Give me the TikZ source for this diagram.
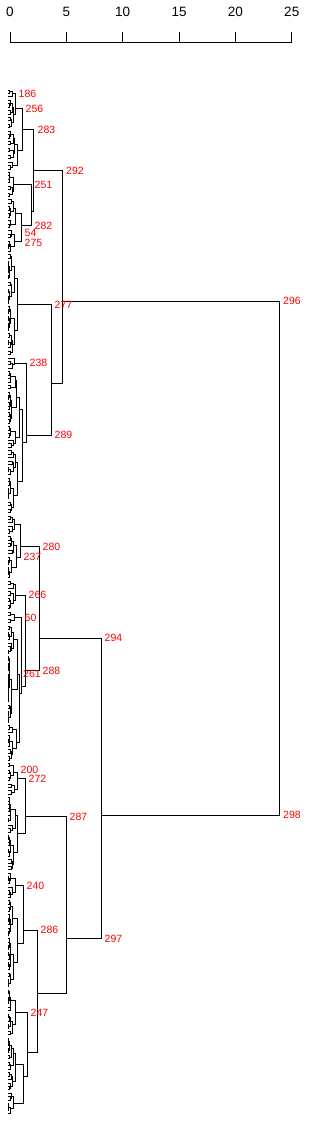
\documentclass[tikz,border=0pt]{standalone}
\usepackage{fontspec}
\setmainfont{Liberation Sans}
\usepackage{tikz}
\usetikzlibrary{positioning}
\usepackage{xcolor}
\definecolor{lblred}{RGB}{255,0,0}
\tikzset{
  branch/.style={draw=black, line width=1pt, line cap=rect},
  scaleax/.style={draw=black, line width=1pt},
  axlab/.style={font=\fontsize{13.5}{13.5}\selectfont, inner sep=0pt},
  clab/.style={text=lblred, font=\fontsize{10.5}{10.5}\selectfont, inner sep=0pt}
}
% leaf i sits at y = 90 + 3.436 (i-1); a cluster hangs at the mean of its leaves
\newcommand\leafx{8}
\newcommand\subtr[3]{%
  \begingroup
  \ifnum#1=#2\relax
    \pgfmathsetmacro\sbY{90+3.436*(#1-1)}%
    \xdef\sbRetY{\sbY}\xdef\sbRetH{\leafx}%
  \else
    \pgfmathtruncatemacro\sbM{#1+floor((#2-#1)*(0.25+0.5*rnd))}%
    \pgfmathtruncatemacro\sbMp{\sbM+1}%
    \pgfmathsetmacro\sbHa{\leafx+(#3-\leafx)*(0.3+0.55*rnd)}%
    \pgfmathsetmacro\sbHb{\leafx+(#3-\leafx)*(0.3+0.55*rnd)}%
    \edef\sbNext{\noexpand\subtr{#1}{\sbM}{\sbHa}}\sbNext
    \let\sbYa\sbRetY \let\sbHa\sbRetH
    \edef\sbNext{\noexpand\subtr{\sbMp}{#2}{\sbHb}}\sbNext
    \let\sbYb\sbRetY \let\sbHb\sbRetH
    \draw[branch] (\sbHa,\sbYa) -- (#3,\sbYa) -- (#3,\sbYb) -- (\sbHb,\sbYb);
    \pgfmathsetmacro\sbY{90+3.436*((#1+#2)/2-1)}%
    \xdef\sbRetY{\sbY}\xdef\sbRetH{#3}%
  \fi
  \endgroup}
\newcommand\mkbase[4]{%
  \subtr{#2}{#3}{#4}%
  \coordinate (#1) at (\sbRetH,\sbRetY);}
\newcommand\mkclus[6]{%
  \pgfmathsetmacro\cy{90+3.436*((#2+#3)/2-1)}%
  \coordinate (#1) at (#4,\cy);
  \draw[branch] (#5) -- (#5 -| #1) -- (#6 -| #1) -- (#6);}

\begin{document}
\begin{tikzpicture}[x=1pt, y=-1pt]
  \useasboundingbox (0,0) rectangle (312,1128);
  \pgfmathsetseed{7}

  %% ---- scale -------------------------------------------------------
  \draw[scaleax] (10,42) -- (291.7,42);
  \foreach \v in {0,5,...,25}{
    \draw[scaleax] ({10+11.27*\v},42) -- ({10+11.27*\v},31.7);
    \node[axlab] (t\v) at ({10+11.27*\v},12) {\v};
  }

  %% ---- upper block -------------------------------------------------
  \mkbase{b1}{1}{3}{12}
  \mkbase{b2}{4}{12}{13}
  \mkclus{p1}{1}{12}{15}{b1}{b2}
  \mkbase{b3}{13}{24}{17}
  \mkclus{u1a}{1}{24}{22}{p1}{b3}
  \mkbase{b4}{25}{32}{13}
  \mkbase{b5}{33}{41}{15}
  \mkbase{b6}{42}{48}{14}
  \mkclus{q1}{33}{48}{21}{b5}{b6}
  \mkclus{u1b}{25}{48}{31}{b4}{q1}
  \mkclus{u1}{1}{48}{33}{u1a}{u1b}
  \mkbase{b7}{49}{63}{14}
  \mkbase{b8}{64}{78}{14.5}
  \mkclus{u2a}{49}{78}{17}{b7}{b8}
  \mkbase{b9}{79}{82}{14}
  \mkbase{b10}{83}{105}{19}
  \mkbase{b11}{106}{124}{17}
  \mkclus{q2}{83}{124}{22}{b10}{b11}
  \mkclus{u2b}{79}{124}{26}{b9}{q2}
  \mkclus{u2}{49}{124}{51}{u2a}{u2b}
  \mkclus{up}{1}{124}{62}{u1}{u2}

  %% ---- lower block -------------------------------------------------
  \mkbase{b12}{125}{130}{14}
  \mkbase{b13}{131}{143}{16}
  \mkclus{q3}{125}{143}{20}{b12}{b13}
  \mkbase{b14}{144}{152}{15}
  \mkbase{b15}{153}{156}{14}
  \mkbase{b16}{157}{185}{17}
  \mkbase{b17}{186}{196}{16}
  \mkclus{q4}{157}{196}{19.5}{b16}{b17}
  \mkclus{q5}{153}{196}{21}{b15}{q4}
  \mkclus{q6}{144}{196}{25}{b14}{q5}
  \mkclus{l1}{125}{196}{39}{q3}{q6}
  \mkbase{b18}{197}{202}{13}
  \mkbase{b19}{203}{206}{14}
  \mkclus{q7}{197}{206}{17}{b18}{b19}
  \mkbase{b20}{207}{228}{17}
  \mkclus{q8}{197}{228}{25}{q7}{b20}
  \mkbase{b21}{229}{236}{15}
  \mkbase{b22}{237}{262}{17}
  \mkclus{q9}{229}{262}{23}{b21}{b22}
  \mkbase{b23}{263}{276}{15}
  \mkbase{b24}{277}{292}{15}
  \mkbase{b25}{293}{299}{13}
  \mkclus{q10}{277}{299}{23}{b24}{b25}
  \mkclus{q11}{263}{299}{27}{b23}{q10}
  \mkclus{q12}{229}{299}{37}{q9}{q11}
  \mkclus{l2}{197}{299}{66}{q8}{q12}
  \mkclus{lo}{125}{299}{101}{l1}{l2}
  \mkclus{root}{1}{299}{279}{up}{lo}

  %% ---- cluster numbers ---------------------------------------------
  \node[clab, right=4pt] (n296) at (up -| root) {296};
  \node[clab, right=4pt] (n298) at (lo -| root) {298};
  \node[clab, right=4pt] (n292) at (u1 -| up) {292};
  \node[clab, right=3.5pt] (n277) at (u2a -| u2) {277};
  \node[clab, right=3.5pt] (n289) at (u2b -| u2) {289};
  \node[clab, right=4.5pt] (n283) at (u1a -| u1) {283};
  \node[clab, right=3.5pt] (n256) at (p1 -| u1a) {256};
  \node[clab, right=3.5pt] (n186) at (b1 -| p1) {186};
  \node[clab, right=3.5pt] (n251) at (b4 -| u1b) {251};
  \node[clab, right=3.5pt] (n282) at (q1 -| u1b) {282};
  \node[clab, right=3.5pt] (n54) at (21,233) {54};
  \node[clab, right=3.5pt, yshift=-1.5pt] (n275) at (b6 -| q1) {275};
  \node[clab, right=3.5pt] (n238) at (b9 -| u2b) {238};
  \node[clab, right=3.5pt] (n294) at (l1 -| lo) {294};
  \node[clab, right=3.5pt] (n297) at (l2 -| lo) {297};
  \node[clab, right=3.5pt] (n280) at (q3 -| l1) {280};
  \node[clab, right=3.5pt] (n288) at (q6 -| l1) {288};
  \node[clab, right=3.5pt] (n237) at (b13 -| q3) {237};
  \node[clab, right=3.5pt] (n266) at (b14 -| q6) {266};
  \node[clab, right=3.5pt] (n60) at (b15 -| q5) {60};
  \node[clab, right=3.5pt] (n261) at (b16 -| q4) {261};
  \node[clab, right=3.5pt] (n287) at (q8 -| l2) {287};
  \node[clab, right=3.5pt] (n272) at (q7 -| q8) {272};
  \node[clab, right=3.5pt, yshift=2pt] (n200) at (b18 -| q7) {200};
  \node[clab, right=3.5pt] (n286) at (q9 -| q12) {286};
  \node[clab, right=3.5pt] (n240) at (b21 -| q9) {240};
  \node[clab, right=3.5pt] (n247) at (b23 -| q11) {247};

\end{tikzpicture}
\end{document}
